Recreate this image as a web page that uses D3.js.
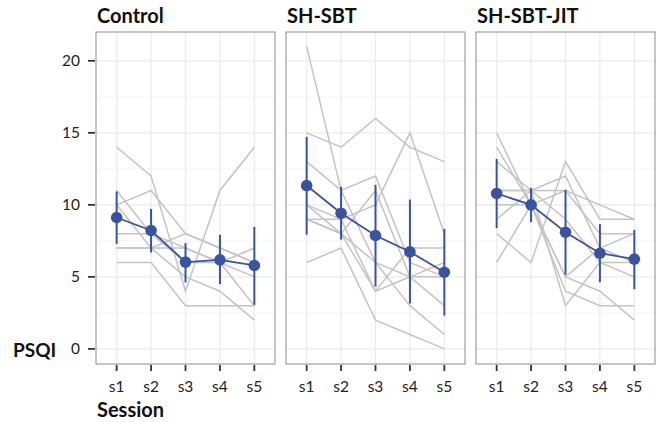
<!DOCTYPE html>
<html>
<head>
<meta charset="utf-8">
<script src="https://cdn.jsdelivr.net/npm/d3@7"></script>
<style>
  body { margin: 0; background: #fff; }
  text { font-family: Lato, "Open Sans", sans-serif; }
</style>
</head>
<body>
<script>
const sessions = ['s1', 's2', 's3', 's4', 's5'];
const groups = ['Control', 'SH-SBT', 'SH-SBT-JIT'];
const yTicks = [0, 5, 10, 15, 20];

// individual participant trajectories (PSQI per session)
const controlSubjects = [
  [14, 12, 4, 11, 14],
  [10, 11, 8, 7, 6],
  [11, 8, 7, 6, 7],
  [10, 7, 8, 7, 6],
  [8, 8, 6, 6, 5],
  [7, 7, 7, 6, 3],
  [7, 7, 5, 4, 2],
  [6, 6, 3, 3, 3]
];
const sbtSubjects = [
  [15, 14, 16, 14, 13],
  [21, 11, 6, 3, 1],
  [13, 11, 12, 6, 5],
  [10, 9, 10, 15, 8],
  [10, 8, 11, 5, 6],
  [9, 9, 4, 5, 5],
  [9, 8, 6, 5, 3],
  [9, 8, 4, 7, 7],
  [6, 7, 2, 1, 0]
];
const jitSubjects = [
  [15, 10, 5, 4, 2],
  [14, 10, 4, 3, 3],
  [13, 11, 3, 6, 5],
  [11, 11, 11, 10, 9],
  [11, 11, 12, 7, 6],
  [10, 10, 11, 8, 8],
  [9, 11, 9, 6, 6],
  [8, 6, 13, 9, 9],
  [6, 10, 5, 7, 8]
];

// group summaries: mean and error bar ends
const controlMean = [9.12, 8.22, 6.02, 6.18, 5.79];
const controlLow = [7.29, 6.69, 4.61, 4.49, 3.06];
const controlHigh = [10.93, 9.72, 7.34, 7.92, 8.47];
const sbtMean = [11.34, 9.42, 7.87, 6.74, 5.32];
const sbtLow = [7.92, 7.59, 4.33, 3.15, 2.31];
const sbtHigh = [14.72, 11.25, 11.39, 10.37, 8.33];
const jitMean = [10.79, 10.0, 8.10, 6.64, 6.23];
const jitLow = [8.38, 8.80, 5.14, 4.63, 4.14];
const jitHigh = [13.19, 11.18, 11.04, 8.66, 8.26];

const panels = [
  { name: groups[0], subjects: controlSubjects, mean: controlMean, lo: controlLow, hi: controlHigh },
  { name: groups[1], subjects: sbtSubjects, mean: sbtMean, lo: sbtLow, hi: sbtHigh },
  { name: groups[2], subjects: jitSubjects, mean: jitMean, lo: jitLow, hi: jitHigh }
];

const width = 657;
const height = 422;
const panelLeft = 96, panelTop = 32, pw = 179, ph = 332, gap = 11;
const blue = '#3953a4';

const svg = d3.select('body')
  .append('svg')
  .attr('width', width)
  .attr('height', height);

const x = d3.scalePoint().domain(sessions).range([0, pw]).padding(0.6);
const y = d3.scaleLinear().domain([-1.05, 22]).range([ph, 0]);
const minor = [2.5, 7.5, 12.5, 17.5];

panels.forEach((p, i) => {
  const g = svg.append('g')
    .attr('transform', `translate(${panelLeft + i * (pw + gap)},${panelTop})`);

  g.append('rect').attr('width', pw).attr('height', ph).attr('fill', '#fff');

  g.selectAll('.minor').data(minor).enter()
    .append('line')
    .attr('x1', 0).attr('x2', pw)
    .attr('y1', d => y(d)).attr('y2', d => y(d))
    .attr('stroke', '#f2f2f2').attr('stroke-width', 0.8);

  g.selectAll('.hgrid').data(yTicks).enter()
    .append('line')
    .attr('x1', 0).attr('x2', pw)
    .attr('y1', d => y(d)).attr('y2', d => y(d))
    .attr('stroke', '#ebebeb').attr('stroke-width', 1.2);

  g.selectAll('.vgrid').data(sessions).enter()
    .append('line')
    .attr('x1', d => x(d)).attr('x2', d => x(d))
    .attr('y1', 0).attr('y2', ph)
    .attr('stroke', '#ebebeb').attr('stroke-width', 1.2);

  const line = d3.line()
    .x((d, j) => x(sessions[j]))
    .y(d => y(d));

  g.selectAll('.subj').data(p.subjects).enter()
    .append('path')
    .attr('d', line)
    .attr('fill', 'none')
    .attr('stroke', '#c4c4c4')
    .attr('stroke-width', 1.5);

  g.append('path')
    .attr('d', line(p.mean))
    .attr('fill', 'none')
    .attr('stroke', blue)
    .attr('stroke-width', 1.8);

  g.selectAll('.err').data(sessions).enter()
    .append('line')
    .attr('x1', d => x(d)).attr('x2', d => x(d))
    .attr('y1', (d, j) => y(p.lo[j])).attr('y2', (d, j) => y(p.hi[j]))
    .attr('stroke', blue).attr('stroke-width', 2);

  g.selectAll('.pt').data(sessions).enter()
    .append('circle')
    .attr('cx', d => x(d))
    .attr('cy', (d, j) => y(p.mean[j]))
    .attr('r', 5.8)
    .attr('fill', blue);

  g.append('rect').attr('width', pw).attr('height', ph)
    .attr('fill', 'none').attr('stroke', '#8c8c8c').attr('stroke-width', 1);

  g.append('text')
    .attr('x', 1).attr('y', -9)
    .attr('font-size', 20).attr('font-weight', 'bold')
    .attr('fill', '#111')
    .text(p.name);

  // x axis
  const xa = g.append('g').attr('transform', `translate(0,${ph})`);
  xa.selectAll('line').data(sessions).enter()
    .append('line')
    .attr('x1', d => x(d)).attr('x2', d => x(d))
    .attr('y1', 1).attr('y2', 7)
    .attr('stroke', '#333').attr('stroke-width', 1.8);
  xa.selectAll('text').data(sessions).enter()
    .append('text')
    .attr('x', d => x(d)).attr('y', 27.5)
    .attr('text-anchor', 'middle')
    .attr('font-size', 15.5).attr('fill', '#222')
    .text(d => d);
});

// y axis on the first panel
const ya = svg.append('g').attr('transform', `translate(${panelLeft},${panelTop})`);
ya.selectAll('line').data(yTicks).enter()
  .append('line')
  .attr('x1', -8).attr('x2', -1)
  .attr('y1', d => y(d)).attr('y2', d => y(d))
  .attr('stroke', '#333').attr('stroke-width', 1.8);
ya.selectAll('text').data(yTicks).enter()
  .append('text')
  .attr('x', -16).attr('y', d => y(d))
  .attr('dy', '0.36em')
  .attr('text-anchor', 'end')
  .attr('font-size', 15.5).attr('fill', '#222')
  .text(d => d);

svg.append('text')
  .attr('x', 13).attr('y', 357)
  .attr('font-size', 19).attr('font-weight', 'bold').attr('fill', '#111')
  .text('PSQI');

svg.append('text')
  .attr('x', 97).attr('y', 417)
  .attr('font-size', 20).attr('font-weight', 'bold').attr('fill', '#111')
  .text('Session');
</script>
</body>
</html>
